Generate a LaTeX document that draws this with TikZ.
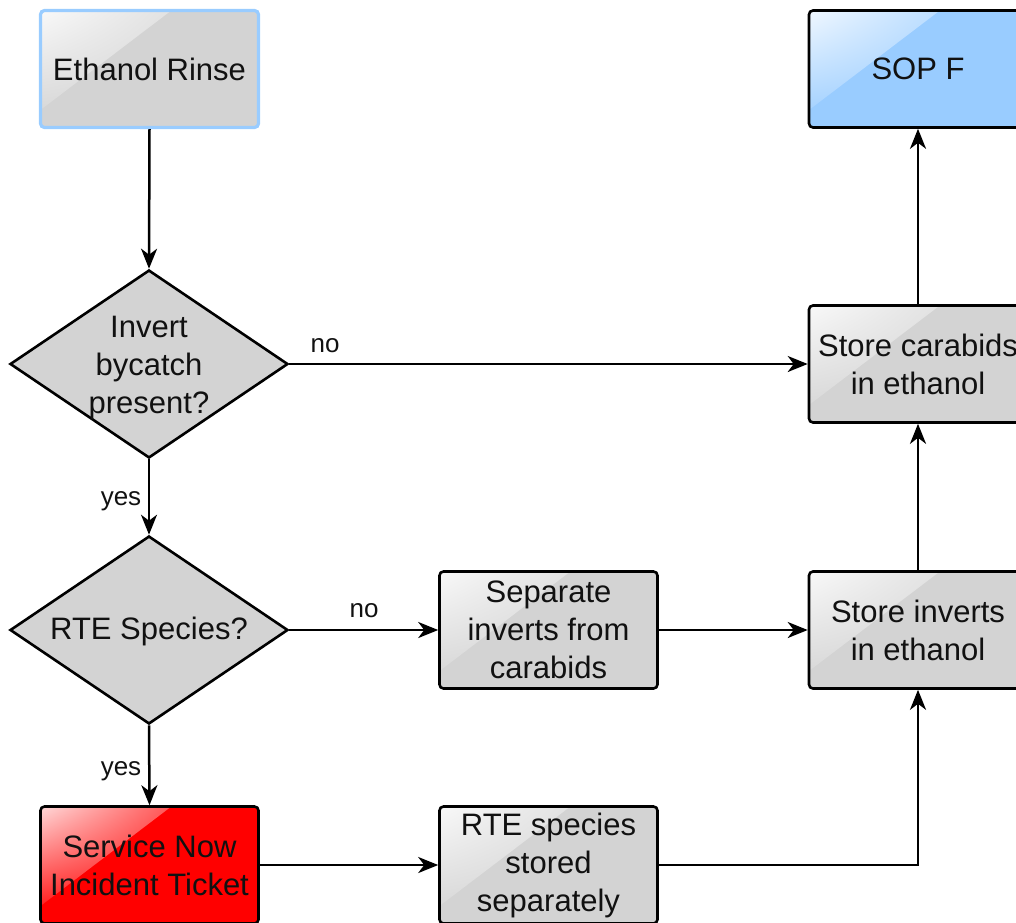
\documentclass[tikz,border=0pt]{standalone}
\usepackage{fontspec}
\setmainfont{Liberation Sans}
\usetikzlibrary{arrows.meta,shapes.geometric,calc,shadings}
\definecolor{boxgray}{HTML}{D3D3D3}
\definecolor{sopblue}{HTML}{99CCFF}
\definecolor{alertred}{HTML}{FF0000}
\definecolor{txtcol}{HTML}{111111}
\newcommand\mainfnt{\fontsize{31}{38}\selectfont}
\newcommand\lblfnt{\fontsize{26}{30}\selectfont}
\begin{document}
\begin{tikzpicture}[x=1pt,y=-1pt,
  gloss/.style={path picture={\shade[sharp corners, upper left=white!85!#1, upper right=#1, lower left=#1, lower right=#1]
      (path picture bounding box.north west)
      -- ($(path picture bounding box.north west)!0.6!(path picture bounding box.north east)$)
      -- ($(path picture bounding box.north west)!0.85!(path picture bounding box.south west)$) -- cycle;}},
  stepbox/.style={rectangle, draw=black, line width=2.6pt, rounded corners=4pt,
      minimum width=218pt, minimum height=117pt, inner sep=2pt, align=center,
      fill=#1, gloss=#1, font=\mainfnt, text=txtcol},
  decision/.style={diamond, draw=black, line width=2.6pt, fill=boxgray,
      minimum width=278pt, minimum height=188pt, inner sep=0pt},
  dtext/.style={align=center, font=\mainfnt, text=txtcol, inner sep=0pt},
  lbl/.style={font=\lblfnt, text=txtcol, inner sep=0pt, anchor=base},
  conn/.style={draw=black, line width=2.5pt, -{Stealth[length=20pt,width=16pt,inset=6pt]}},
]
\useasboundingbox (0,0) rectangle (1016,922);

\node[stepbox=boxgray, draw=sopblue, line width=3.2pt] (rinse) at (149.5,69) {Ethanol Rinse};
\node[stepbox=sopblue] (sop) at (918,69) {SOP F};

\node[decision] (d1) at (149,364) {};
\node[dtext] (d1t) at (149,368) {Invert\\bycatch\\present?};
\node[stepbox=boxgray] (carab) at (918,364) {Store carabids\\in ethanol};

\node[decision] (d2) at (149,630) {};
\node[dtext] (d2t) at (149,631) {RTE Species?};
\node[stepbox=boxgray] (sep) at (548.5,630) {Separate\\inverts from\\carabids};
\node[stepbox=boxgray] (inv) at (918,630) {Store inverts\\in ethanol};

\node[stepbox=alertred] (snow) at (149.5,865) {Service Now\\Incident Ticket};
\node[stepbox=boxgray] (rte) at (548.5,865) {RTE species\\stored\\separately};

\draw[conn] (rinse.south) -- (d1.north);
\draw[conn] (d1.east) -- (d1.east -| carab.west);
\draw[conn] (d1.south) -- (d2.north);
\draw[conn] (d2.east) -- (sep.west);
\draw[conn] (d2.south) -- (snow.north);
\draw[conn] (sep.east) -- (inv.west);
\draw[conn] (inv.north) -- (carab.south);
\draw[conn] (carab.north) -- (sop.south);
\draw[conn] (snow.east) -- (rte.west);
\draw[conn] (rte.east) -| (inv.south);

\node[lbl] (no1) at (325,352) {no};
\node[lbl] (yes1) at (121,505) {yes};
\node[lbl] (no2) at (364,617) {no};
\node[lbl] (yes2) at (121,775) {yes};
\end{tikzpicture}
\end{document}
